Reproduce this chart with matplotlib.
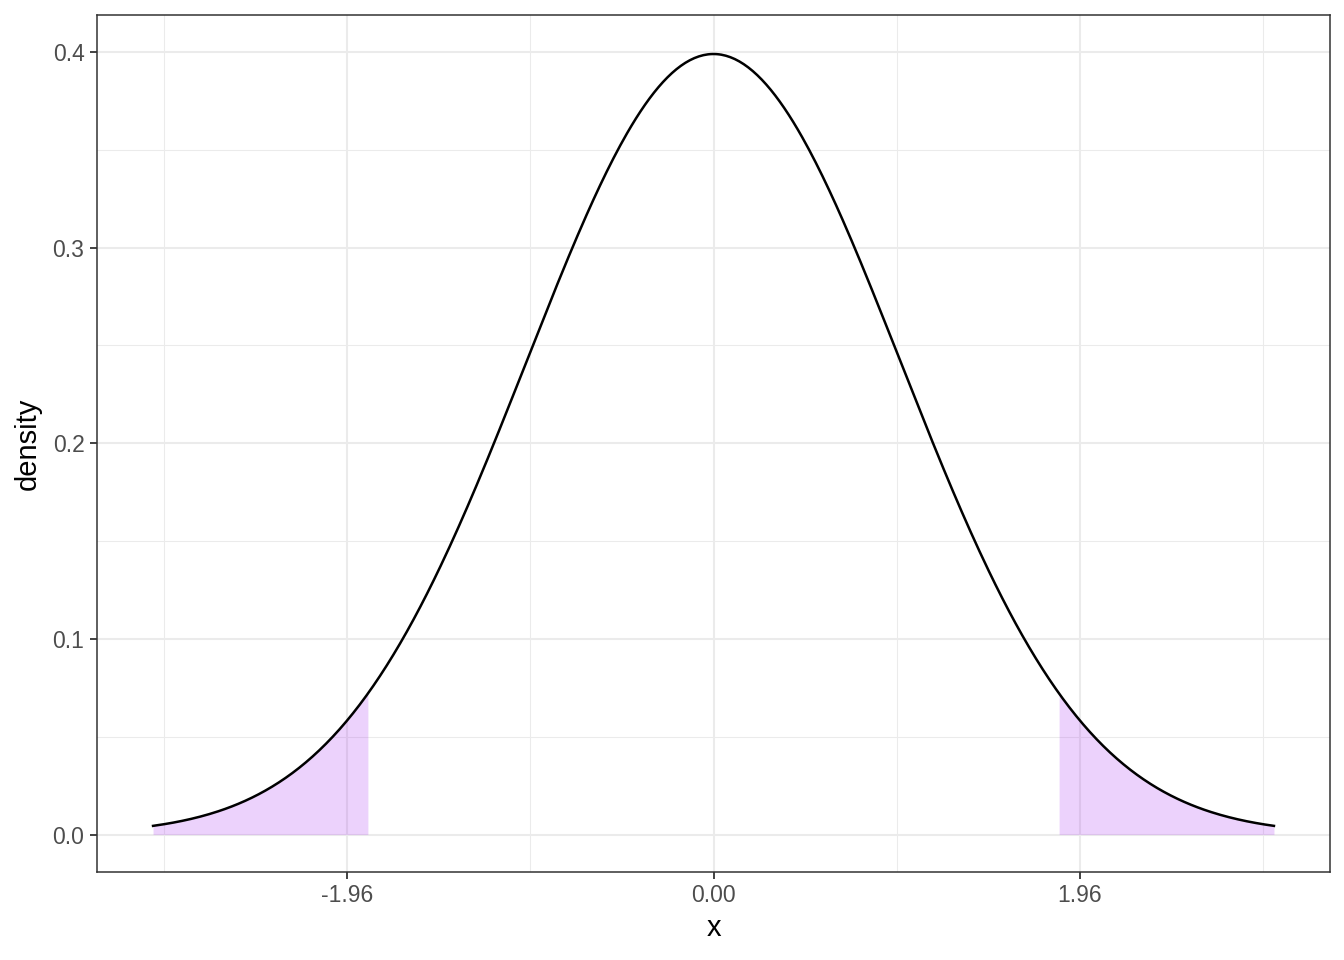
import numpy as np
import matplotlib.pyplot as plt

# standard normal density, shaded tails
mu = 0.0
sigma = 1.0
x_min, x_max = -3.0, 3.0
tail_left, tail_right = -1.85, 1.85
x_ticks = [-1.96, 0.0, 1.96]
x_ticklabels = ["-1.96", "0.00", "1.96"]
y_ticks = [0.0, 0.1, 0.2, 0.3, 0.4]
y_ticklabels = ["0.0", "0.1", "0.2", "0.3", "0.4"]


def dnorm(x):
    return np.exp(-0.5 * ((x - mu) / sigma) ** 2) / (sigma * np.sqrt(2 * np.pi))


plt.rcParams['font.family'] = ['Liberation Sans', 'DejaVu Sans']

fig = plt.figure(figsize=(13.44, 9.6), dpi=100)
ax = fig.add_axes([97 / 1344, 1 - 872 / 960, (1330 - 97) / 1344, (872 - 15) / 960])

xs = np.linspace(x_min, x_max, 500)
ys = dnorm(xs)

# tails
xl = np.linspace(x_min, tail_left, 200)
ax.fill_between(xl, 0, dnorm(xl), color='#A020F0', alpha=0.2, linewidth=0, zorder=2)
xr = np.linspace(tail_right, x_max, 200)
ax.fill_between(xr, 0, dnorm(xr), color='#A020F0', alpha=0.2, linewidth=0, zorder=2)

ax.plot(xs, ys, color='black', linewidth=1.8, zorder=3)

# ggplot-like expansion
xr_ = x_max - x_min
ax.set_xlim(x_min - 0.05 * xr_, x_max + 0.05 * xr_)
ymax = ys.max()
ax.set_ylim(-0.048 * ymax, ymax * 1.05)

ax.set_xticks(x_ticks)
ax.set_xticklabels(x_ticklabels)
ax.set_yticks(y_ticks)
ax.set_yticklabels(y_ticklabels)
ax.set_xticks([-2.94, -0.98, 0.98, 2.94], minor=True)
ax.set_yticks([0.05, 0.15, 0.25, 0.35], minor=True)

ax.grid(which='major', color='#EBEBEB', linewidth=1.5, zorder=0)
ax.grid(which='minor', color='#EBEBEB', linewidth=0.75, zorder=0)
ax.set_axisbelow(True)

ax.tick_params(which='major', length=5, width=1.3, color='#333333',
               labelsize=16.5, labelcolor='#4D4D4D', pad=4)
ax.tick_params(which='minor', length=0)
for s in ax.spines.values():
    s.set_color('#333333')
    s.set_linewidth(1.1)

ax.set_xlabel('x', fontsize=21, labelpad=5)
ax.set_ylabel('density', fontsize=21, labelpad=8)

fig.savefig('out.png', dpi=100)
